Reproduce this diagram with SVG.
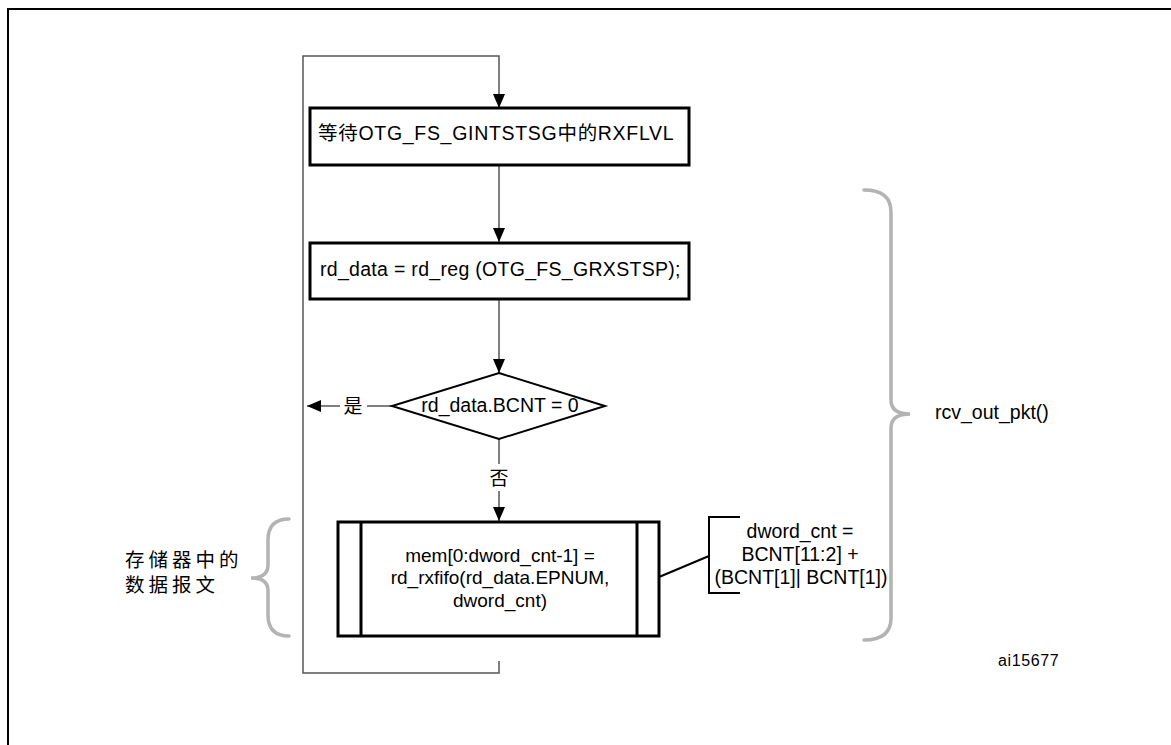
<svg xmlns="http://www.w3.org/2000/svg" width="1171" height="745" viewBox="0 0 1171 745">
<style>
text{font-family:"Liberation Sans","Noto Sans CJK SC",Arial,sans-serif;fill:#000;font-size:19.5px}
.box{fill:#fff;stroke:#000;stroke-width:3}
.ln{fill:none;stroke:#555;stroke-width:1.5}
.bk{fill:none;stroke:#000;stroke-width:2}
.brace{fill:none;stroke:#b3b3b3;stroke-width:3.5;stroke-linecap:round}
.c{text-anchor:middle}
.m{font-size:19px}
.ref{font-size:16px;letter-spacing:0.6px}
</style>
<defs>
<marker id="ah2" markerWidth="14" markerHeight="12" refX="14" refY="6" orient="auto" markerUnits="userSpaceOnUse" viewBox="0 0 14 12">
<path d="M0,0 L14,6 L0,12 z" fill="#000"/>
</marker>
</defs>
<rect x="0" y="0" width="1171" height="745" fill="#fff"/>
<rect id="frame" x="8" y="9" width="1200" height="800" fill="none" stroke="#000" stroke-width="2"/>
<g id="connectors">
<path class="ln" d="M499,661 L499,673 L303,673 L303,56 L499,56 L499,108" marker-end="url(#ah2)"/>
<path class="ln" d="M499,165 L499,242" marker-end="url(#ah2)"/>
<path class="ln" d="M499,299 L499,373" marker-end="url(#ah2)"/>
<path class="ln" d="M392,406 L367,406"/>
<path class="ln" d="M340,406 L307,406" marker-end="url(#ah2)"/>
<path class="ln" d="M499,439 L499,464"/>
<path class="ln" d="M499,491 L499,521" marker-end="url(#ah2)"/>
<path class="bk" d="M659,577 L709,556"/>
</g>
<g id="n1">
<rect class="box" x="310" y="108" width="379" height="57"/>
<text x="318" y="140" letter-spacing="0.7">等待OTG_FS_GINTSTSG中的RXFLVL</text>
</g>
<g id="n2">
<rect class="box" x="310" y="243" width="379" height="56"/>
<text x="320" y="276" letter-spacing="0.3">rd_data = rd_reg (OTG_FS_GRXSTSP);</text>
</g>
<g id="n3">
<path d="M499,373 L605,406 L499,439 L392,406 Z" fill="#fff" stroke="#000" stroke-width="2"/>
<text class="c" x="500" y="412">rd_data.BCNT = 0</text>
</g>
<g id="lbl-yes"><text class="c m" x="353" y="413">是</text></g>
<g id="lbl-no"><text class="c m" x="499" y="485">否</text></g>
<g id="n4">
<rect class="box" x="338" y="522" width="321" height="114"/>
<line x1="361" y1="522" x2="361" y2="636" stroke="#000" stroke-width="3"/>
<line x1="637" y1="522" x2="637" y2="636" stroke="#000" stroke-width="3"/>
<text class="c m" x="500" y="562">mem[0:dword_cnt-1] =</text>
<text class="c m" x="500" y="584">rd_rxfifo(rd_data.EPNUM,</text>
<text class="c m" x="500" y="607">dword_cnt)</text>
</g>
<g id="note">
<path class="bk" d="M740,517 L709,517 L709,593 L740,593"/>
<text class="c" x="800" y="538">dword_cnt =</text>
<text class="c" x="800" y="561">BCNT[11:2] +</text>
<text class="c" x="801" y="584">(BCNT[1]| BCNT[1])</text>
</g>
<g id="brace-left">
<path class="brace" d="M289,519 Q268,519 268,540 L268,565 Q268,578 251,578 Q268,578 268,591 L268,615 Q268,636 289,636"/>
<text x="125" y="567" letter-spacing="4">存储器中的</text>
<text x="125" y="592" letter-spacing="4">数据报文</text>
</g>
<g id="brace-right">
<path class="brace" d="M864,190 Q891,190 891,212 L891,400 Q891,414 910,414 Q891,414 891,428 L891,618 Q891,640 864,640"/>
<text x="935" y="419">rcv_out_pkt()</text>
</g>
<text id="ref" class="ref" x="998" y="666">ai15677</text>
</svg>
